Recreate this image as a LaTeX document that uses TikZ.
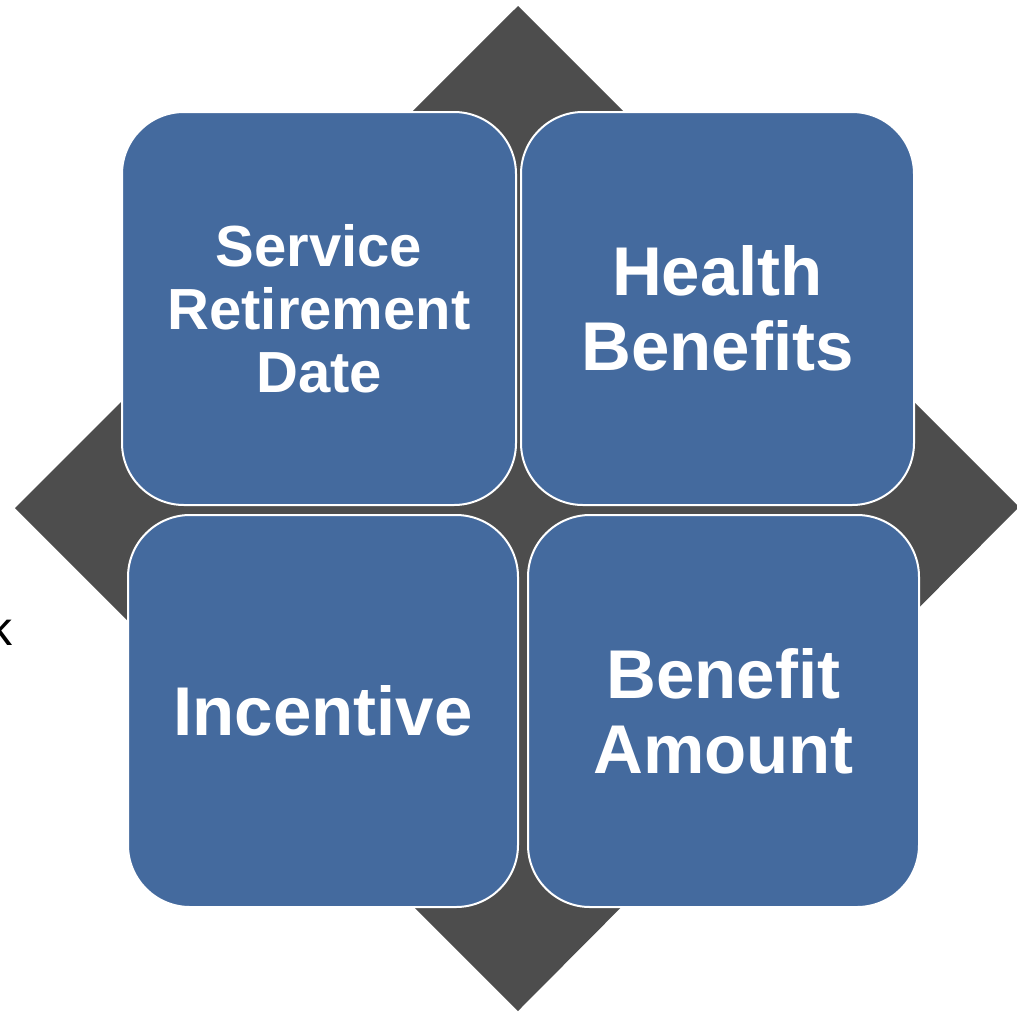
\documentclass[tikz,border=0pt]{standalone}
\usepackage{fontspec}
\setmainfont{Liberation Sans}
\definecolor{tileblue}{RGB}{68,106,158}
\definecolor{diamondgray}{RGB}{77,77,77}

\begin{document}
\begin{tikzpicture}[
    x=1pt, y=-1pt,
    tile/.style={draw=white, line width=2pt, fill=tileblue, rounded corners=62pt,
        text=white, align=center, inner sep=0pt, font=\bfseries}
]
    \useasboundingbox (0,0) rectangle (1017,1012);

    % Background diamond
    \fill[diamondgray] (518,6) -- (1019,507) -- (518,1011) -- (15,508) -- cycle;

    % Stray letter at the left edge
    \node[anchor=base west, inner sep=0pt, font=\fontsize{48}{56}\selectfont] (stray) at (-12,645) {k};

    % Four tiles
    \node[tile, minimum width=394pt, minimum height=393pt,
        font=\bfseries\fontsize{58}{63}\selectfont] (service) at (319,308.5)
        {Service\\Retirement\\Date};
    \node[tile, minimum width=393pt, minimum height=393pt,
        font=\bfseries\fontsize{69}{75}\selectfont] (health) at (717.5,308.5)
        {Health\\Benefits};
    \node[tile, minimum width=390pt, minimum height=392pt,
        font=\bfseries\fontsize{69}{75}\selectfont] (incentive) at (323,711)
        {Incentive};
    \node[tile, minimum width=391pt, minimum height=392pt,
        font=\bfseries\fontsize{69}{75}\selectfont] (amount) at (723.5,711)
        {Benefit\\Amount};
\end{tikzpicture}
\end{document}
